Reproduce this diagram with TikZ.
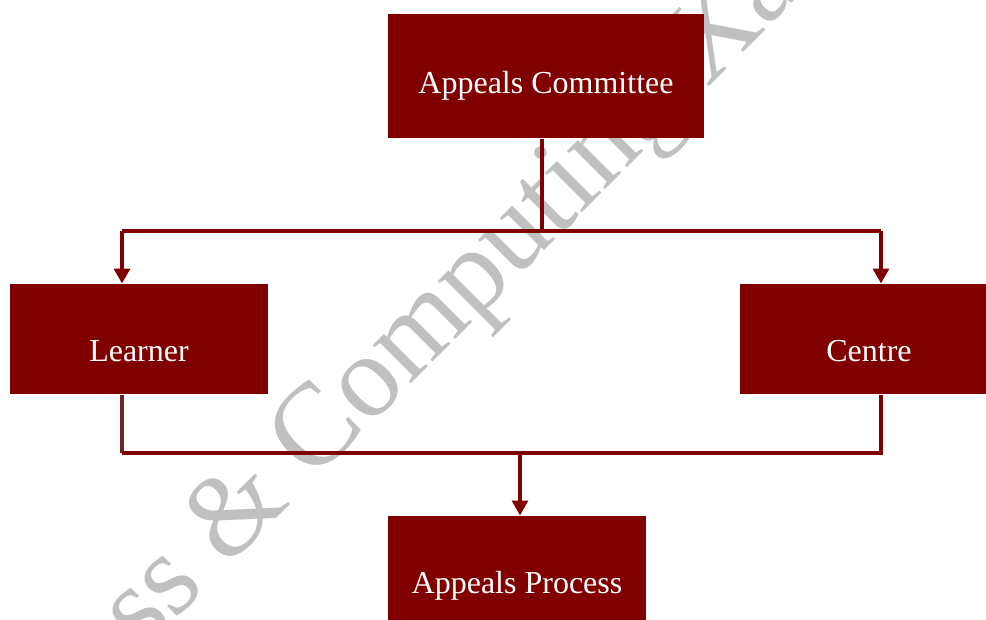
\documentclass[tikz,border=0pt]{standalone}
\usepackage{fontspec}
\setmainfont{Liberation Serif}
\usepackage{xcolor}
\definecolor{Maroon}{RGB}{128,0,0}
\definecolor{LineBrown}{RGB}{105,38,38}
\definecolor{MarkGray}{RGB}{192,192,192}
\usepackage{tikz}
\usetikzlibrary{
  arrows.meta,
  positioning, calc
}
\tikzset{
  % Filled maroon box
  mbox/.style={
    rectangle, fill=Maroon,
    text=white, align=center,
    minimum width=96.75pt, minimum height=41.25pt,
    inner sep=0pt, font=\fontsize{12}{14}\selectfont,
    text height=17pt, text depth=0pt
  },
  mbox wide/.style={mbox, minimum width=118.5pt, minimum height=46.5pt,
    text height=13pt},
  % Connectors
  link/.style={draw=Maroon, line width=1.2pt},
  link brown/.style={draw=LineBrown, line width=1.2pt},
  arr/.style={link, -{Triangle[length=5.6pt,width=6pt]}},
  % Watermark text
  wmark/.style={text=MarkGray, font=\fontsize{44}{50}\selectfont,
    rotate=45, inner sep=0pt},
}
\begin{document}
\begin{tikzpicture}[x=0.375pt,y=-0.375pt]
  \useasboundingbox (0,0) rectangle (986,619);
  \clip (0,0) rectangle (986,619);

  %% Watermark behind everything
  \node[wmark] (mark) at (436,322) {ess \& Computing Xa};

  %% Boxes
  \node[mbox wide] (ac) at (546,76)  {Appeals Committee};
  \node[mbox]      (ln) at (139,339) {Learner};
  \node[mbox]      (ce) at (869,339) {Centre};
  \node[mbox]      (ap) at (517,571) {Appeals Process};

  %% Upper bus: committee -> learner, centre
  \coordinate (lin)  at (122,231);
  \coordinate (cin)  at (881,231);
  \coordinate (acout) at ($(ac.south)+(-4,0)$);
  \draw[link] (acout) -- (acout |- lin);
  \draw[link] (lin) -- (cin);
  \draw[arr]  (lin) -- (lin |- ln.north);
  \draw[arr]  (cin) -- (cin |- ce.north);

  %% Lower bus: learner, centre -> process
  \coordinate (lout) at (122,453);
  \coordinate (cout) at (881,453);
  \coordinate (apin) at ($(ap.north)+(3,0)$);
  \draw[link brown] (lout |- ln.south) -- (lout);
  \draw[link] (lout) -- (cout) -- (cout |- ce.south);
  \draw[arr]  (apin |- lout) -- (apin);
\end{tikzpicture}
\end{document}
